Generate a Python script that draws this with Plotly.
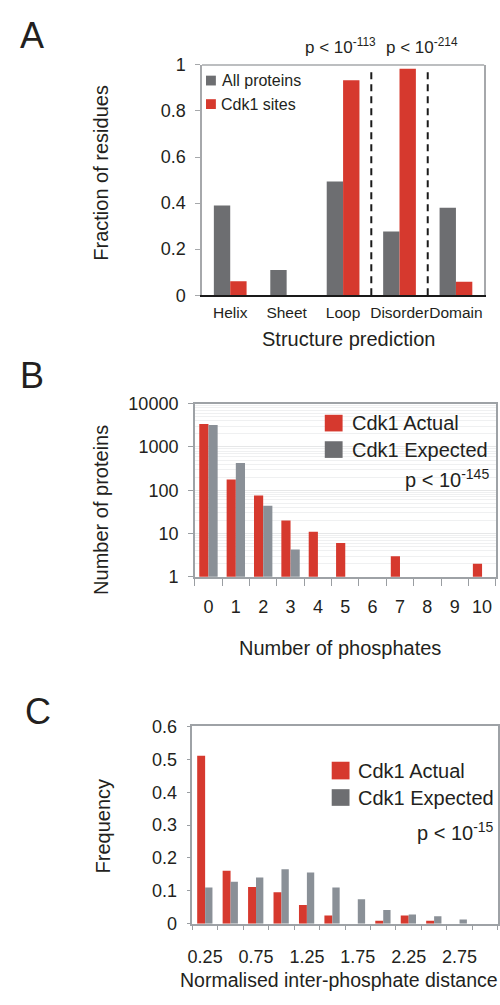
import plotly.graph_objects as go

W, H = 500, 1005


def px(x):
    return x / W


def py(y):
    return 1 - y / H


RED = "#D6392E"
GRAY_DARK = "#6D6E71"
GRAY_LIGHT = "#8A9097"
FRAME = "#A6A8AB"
TXT = "#231F20"
FONT = "Liberation Sans, Arial, Helvetica, sans-serif"

# ---------------- Data ----------------
# Panel A
structure_categories = ["Helix", "Sheet", "Loop", "Disorder", "Domain"]
all_proteins_fraction = [0.39, 0.11, 0.494, 0.277, 0.38]
cdk1_sites_fraction = [0.061, 0.0, 0.933, 0.983, 0.058]
a_yticks = [0, 0.2, 0.4, 0.6, 0.8, 1]
a_yticktext = ["0", "0.2", "0.4", "0.6", "0.8", "1"]

# Panel B
phosphate_counts = [0, 1, 2, 3, 4, 5, 6, 7, 8, 9, 10]
b_actual = [3400, 177, 76, 20, 11, 6, 0, 3, 0, 0, 2]
b_expected = [3240, 424, 44, 4.3, 0, 0, 0, 0, 0, 0, 0]
b_yticks = [1, 10, 100, 1000, 10000]
b_yticktext = ["1", "10", "100", "1000", "10000"]
b_minor_grid = [m * 10 ** k for k in range(4) for m in range(2, 10)]

# Panel C
distance_bins = [0.25, 0.5, 0.75, 1.0, 1.25, 1.5, 1.75, 2.0, 2.25, 2.5, 2.75, 3.0]
c_actual = [0.511, 0.161, 0.112, 0.096, 0.057, 0.025, 0.0, 0.009, 0.025, 0.009, 0.0, 0.0]
c_expected = [0.110, 0.128, 0.141, 0.166, 0.156, 0.110, 0.0745, 0.042, 0.028, 0.023, 0.013, 0.0]
c_xticks = [0.25, 0.75, 1.25, 1.75, 2.25, 2.75]
c_xticktext = ["0.25", "0.75", "1.25", "1.75", "2.25", "2.75"]
c_bin_edges = [0.125 + 0.25 * i for i in range(13)]
c_yticks = [0, 0.1, 0.2, 0.3, 0.4, 0.5, 0.6]
c_yticktext = ["0", "0.1", "0.2", "0.3", "0.4", "0.5", "0.6"]


def pos(vals):
    return [v if v > 0 else None for v in vals]


fig = go.Figure()

# Panel A bars
fig.add_trace(go.Bar(x=structure_categories, y=all_proteins_fraction, name="All proteins",
                     marker=dict(color=GRAY_DARK, line=dict(width=0)), width=0.29, offset=-0.29,
                     xaxis="x", yaxis="y", showlegend=False))
fig.add_trace(go.Bar(x=structure_categories, y=cdk1_sites_fraction, name="Cdk1 sites",
                     marker=dict(color=RED, line=dict(width=0)), width=0.29, offset=0,
                     xaxis="x", yaxis="y", showlegend=False))

# Panel B bars
fig.add_trace(go.Bar(x=phosphate_counts, y=pos(b_actual), name="Cdk1 Actual",
                     marker=dict(color=RED, line=dict(width=0)), width=0.336, offset=-0.336,
                     xaxis="x2", yaxis="y2", showlegend=False))
fig.add_trace(go.Bar(x=phosphate_counts, y=pos(b_expected), name="Cdk1 Expected",
                     marker=dict(color=GRAY_LIGHT, line=dict(width=0)), width=0.336, offset=0,
                     xaxis="x2", yaxis="y2", showlegend=False))

# Panel C bars
fig.add_trace(go.Bar(x=distance_bins, y=c_actual, name="Cdk1 Actual",
                     marker=dict(color=RED, line=dict(width=0)), width=0.078, offset=-0.078,
                     xaxis="x3", yaxis="y3", showlegend=False))
fig.add_trace(go.Bar(x=distance_bins, y=c_expected, name="Cdk1 Expected",
                     marker=dict(color=GRAY_LIGHT, line=dict(width=0)), width=0.072, offset=0,
                     xaxis="x3", yaxis="y3", showlegend=False))

tickfont = dict(family=FONT, size=18, color=TXT)

fig.update_layout(
    width=W, height=H,
    margin=dict(l=0, r=0, t=0, b=0),
    paper_bgcolor="white", plot_bgcolor="white",
    barmode="overlay",
    font=dict(family=FONT, color=TXT),
    showlegend=False,
    # ---- Panel A ----
    xaxis=dict(domain=[px(199), px(484)], anchor="y", type="category",
               range=[-0.5, 4.5], showline=True, linecolor="#1a1a1a", linewidth=2,
               ticks="", tickangle=0, tickfont=dict(family=FONT, size=15.5, color=TXT),
               ticklabelstandoff=2, showgrid=False, zeroline=False),
    yaxis=dict(domain=[py(291), py(56)], anchor="x", range=[0, 1],
               tickmode="array", tickvals=a_yticks, ticktext=a_yticktext,
               ticks="outside", ticklen=5, tickcolor=FRAME, tickfont=tickfont,
               ticklabelstandoff=6,
               showline=True, mirror=True, linecolor=FRAME, linewidth=1.5,
               showgrid=False, zeroline=False),
    # ---- Panel B ----
    xaxis2=dict(domain=[px(191.7), px(495.7)], anchor="y2", range=[-0.5, 10.5],
                tickmode="array", tickvals=phosphate_counts,
                ticktext=[str(v) for v in phosphate_counts],
                ticks="", tickangle=0, tickfont=tickfont, ticklabelstandoff=13,
                minor=dict(tickmode="array", tickvals=[i - 0.5 for i in range(12)],
                           ticks="outside", ticklen=7, tickcolor="#9a9ea2", showgrid=False),
                showline=True, mirror=True, linecolor="#9EA2A6", linewidth=1.5,
                showgrid=False, zeroline=False),
    yaxis2=dict(domain=[py(578.3), py(401.7)], anchor="x2", type="log", range=[0, 4],
                tickmode="array", tickvals=b_yticks, ticktext=b_yticktext,
                ticks="outside", ticklen=5, tickcolor="#9a9ea2", tickfont=tickfont,
                ticklabelstandoff=6,
                showline=True, mirror=True, linecolor="#9EA2A6", linewidth=1.5,
                showgrid=True, gridcolor="#E6E7E8", gridwidth=1,
                minor=dict(tickmode="array", tickvals=b_minor_grid, ticks="",
                           showgrid=True, gridcolor="#EFF0F1", gridwidth=1),
                zeroline=False),
    # ---- Panel C ----
    xaxis3=dict(domain=[px(189.3), px(497.7)], anchor="y3", range=[0.125, 3.125],
                tickmode="array", tickvals=c_xticks, ticktext=c_xticktext,
                ticks="", tickangle=0, tickfont=tickfont, ticklabelstandoff=16,
                minor=dict(tickmode="array", tickvals=c_bin_edges,
                           ticks="outside", ticklen=5, tickcolor="#9a9ea2", showgrid=False),
                showline=True, mirror=True, linecolor="#9EA2A6", linewidth=1.5,
                showgrid=False, zeroline=False),
    yaxis3=dict(domain=[py(932.3), py(731)], anchor="x3", range=[0, 0.6],
                tickmode="array", tickvals=c_yticks, ticktext=c_yticktext,
                ticks="outside", ticklen=4, tickcolor="#9a9ea2", tickfont=tickfont,
                ticklabelstandoff=6,
                showline=True, mirror=True, linecolor="#9EA2A6", linewidth=1.5,
                showgrid=False, zeroline=False),
)

shapes = []
# Panel A top frame line
shapes.append(dict(type="line", xref="x domain", yref="y domain", x0=0, x1=1, y0=1, y1=1,
                   line=dict(color=FRAME, width=1.5)))
# Dashed separators in panel A (between categories)
for xv in [2.5, 3.5]:
    shapes.append(dict(type="line", xref="x", yref="y domain", x0=xv, x1=xv, y0=0, y1=0.985,
                       line=dict(color="#1a1a1a", width=2, dash="7px,5px")))
# Legend background in panel B (covers gridlines)
shapes.append(dict(type="rect", xref="paper", yref="paper", layer="between",
                   x0=px(315), x1=px(494), y0=py(461), y1=py(403),
                   fillcolor="white", line=dict(width=0)))


def swatch(x0, y0, x1, y1, color):
    shapes.append(dict(type="rect", xref="paper", yref="paper",
                       x0=px(x0), x1=px(x1), y0=py(y1), y1=py(y0),
                       fillcolor=color, line=dict(width=0)))


swatch(203, 67, 213, 77, GRAY_DARK)
swatch(203, 91, 213, 101, RED)
swatch(323, 413, 341, 430, RED)
swatch(323, 440, 341, 457, GRAY_DARK)
swatch(330, 767, 348, 785, RED)
swatch(330, 795, 348, 812, GRAY_DARK)

fig.update_layout(shapes=shapes)

ann = []


def text(x, y, s, size, xanchor="left", yanchor="middle", angle=0):
    ann.append(dict(x=px(x), y=py(y), xref="paper", yref="paper", text=s,
                    showarrow=False, xanchor=xanchor, yanchor=yanchor, textangle=angle,
                    font=dict(family=FONT, size=size, color=TXT)))


# Panel letters
text(27, 26, "A", 36, xanchor="center")
text(27, 373, "B", 36, xanchor="center")
text(33, 716, "C", 36, xanchor="center")

# Legends
text(217, 72, "All proteins", 16)
text(216, 96, "Cdk1 sites", 16)
text(348, 421.5, "Cdk1 Actual", 20)
text(348, 448.5, "Cdk1 Expected", 20)
text(355, 776, "Cdk1 Actual", 20)
text(355, 803.5, "Cdk1 Expected", 20)

# p-values
text(301, 37, "p &lt; 10<sup>-113</sup>", 17)
text(383, 37, "p &lt; 10<sup>-214</sup>", 17)
text(402, 478, "p &lt; 10<sup>-145</sup>", 20)
text(414, 838, "p &lt; 10<sup>-15</sup>", 20)

# Axis titles
text(97, 166, "Fraction of residues", 20, xanchor="center", angle=-90)
text(347, 336, "Structure prediction", 20, xanchor="center")
text(97, 510, "Number of proteins", 20, xanchor="center", angle=-90)
text(338, 651, "Number of phosphates", 20, xanchor="center")
text(99, 833, "Frequency", 20, xanchor="center", angle=-90)
text(337, 990, "Normalised inter-phosphate distance", 19.5, xanchor="center")

fig.update_layout(annotations=ann)

fig.write_html(
    "out.html",
    config={"displayModeBar": False},
    post_script="document.body.style.margin='0';document.body.style.padding='0';"
                "document.body.style.overflow='hidden';",
)
